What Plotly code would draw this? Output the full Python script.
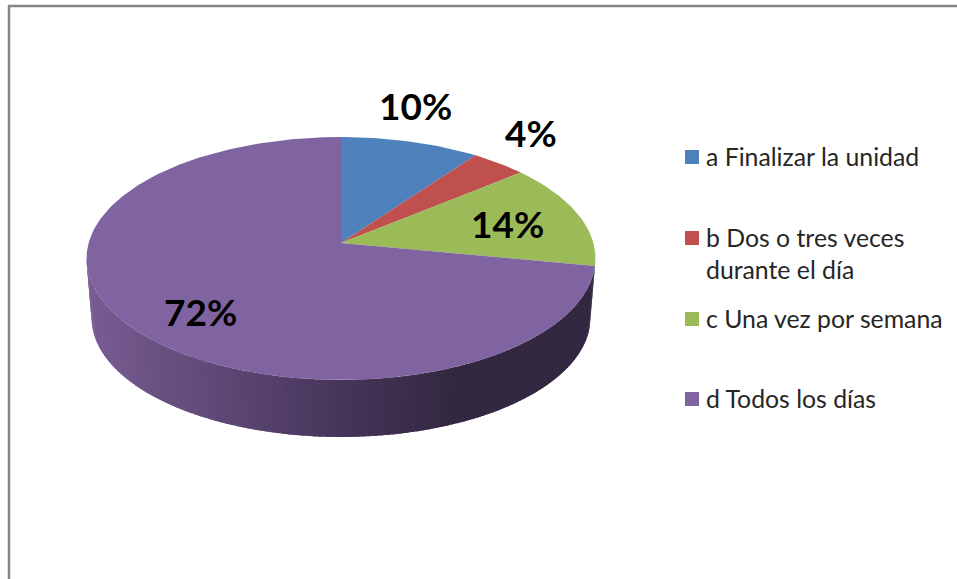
import numpy as np
import plotly.graph_objects as go

# ===============================
# DATA
# ===============================
CATEGORIES = ["a Finalizar la unidad", "b Dos o tres veces<br>durante el día",
              "c Una vez por semana", "d Todos los días"]
SHARES = [10, 4, 14, 72]
LABELS = ["10%", "4%", "14%", "72%"]
COLORS = ["#4F81BD", "#C0504D", "#9BBB59", "#8064A2"]

# ===============================
# CONFIG (all in page pixels)
# ===============================
W, H = 957, 579
CX, CY = 341, 243     # where the slices meet
RX, RY = 252.4, 119.5
PERSP = 0.1276        # pie is tilted, near edge looks bigger
DROP_Y, DROP_SCALE = 59.7, 0.98   # lower rim of the side wall
LABEL_POS = [(415, 105), (531, 132), (507, 223), (200, 311)]
LEGEND_Y = [157, 238, 319, 399]
LEGEND_BOX_X, LEGEND_TEXT_X = 692, 704
WALL_COLORS = [(90, (120, 92, 146)), (200, (98, 75, 121)), (340, (70, 53, 90)),
               (450, (52, 41, 66)), (600, (50, 40, 64))]


def rim(deg, scale=1.0, dy=0.0):
    """Pie rim point, angle clockwise from 12 o'clock."""
    t = np.radians(deg)
    px_, py_ = np.sin(t), -np.cos(t)
    den = 1 - PERSP * py_
    return CX + scale * RX * px_ / den, CY + dy + scale * RY * py_ / den


def wall_color(x):
    xs = [p[0] for p in WALL_COLORS]
    rgb = [np.interp(x, xs, [p[1][i] for p in WALL_COLORS]) for i in range(3)]
    return "rgb(%d,%d,%d)" % tuple(rgb)


fig = go.Figure()

# side wall, drawn as thin strips so it can shade left to right
edges = np.cumsum(SHARES) * 3.6
wall_start = edges[2]
wall_end = 262.7
steps = np.linspace(wall_start, wall_end, 130)
for a0, a1 in zip(steps[:-1], steps[1:]):
    arc = np.linspace(a0, a1 + 1.0, 5)
    ux, uy = rim(arc)
    lx, ly = rim(arc[::-1], DROP_SCALE, DROP_Y)
    fig.add_trace(go.Scatter(
        x=np.r_[ux, lx], y=np.r_[uy, ly], mode="lines", fill="toself",
        line=dict(width=0), fillcolor=wall_color(ux.mean()),
        hoverinfo="skip", showlegend=False))

# top face
start = 0.0
for name, share, color in zip(CATEGORIES, SHARES, COLORS):
    stop = start + share * 3.6
    arc = np.linspace(start, stop, max(int(share * 4), 8))
    ax, ay = rim(arc)
    fig.add_trace(go.Scatter(
        x=np.r_[CX, ax, CX], y=np.r_[CY, ay, CY], mode="lines", fill="toself",
        line=dict(width=0), fillcolor=color, name=name.replace("<br>", " "),
        hoverinfo="name", showlegend=False))
    start = stop

# legend keys
for y, color in zip(LEGEND_Y, COLORS):
    fig.add_trace(go.Scatter(
        x=[LEGEND_BOX_X], y=[y], mode="markers", hoverinfo="skip", showlegend=False,
        marker=dict(symbol="square", size=14, color=color, line=dict(width=0))))

annotations = []
for (x, y), text in zip(LABEL_POS, LABELS):
    annotations.append(dict(x=x, y=y, text=text, showarrow=False,
                            font=dict(family="Lato", size=37, color="#000000", weight="bold")))
for y, text in zip(LEGEND_Y, CATEGORIES):
    annotations.append(dict(x=LEGEND_TEXT_X, y=y - 17, text=text, showarrow=False,
                            xanchor="left", yanchor="top", align="left",
                            font=dict(family="Lato", size=24.8, color="#262626")))

fig.update_layout(
    width=W, height=H, margin=dict(l=0, r=0, t=0, b=0),
    paper_bgcolor="white", plot_bgcolor="white", showlegend=False,
    xaxis=dict(range=[0, W], visible=False, fixedrange=True),
    yaxis=dict(range=[H, 0], visible=False, fixedrange=True),
    annotations=annotations,
    shapes=[dict(type="line", x0=9, x1=9, y0=6, y1=H, line=dict(color="#868686", width=2.5)),
            dict(type="line", x0=8, x1=W, y0=6, y1=6, line=dict(color="#868686", width=2.5))],
)

# page has a default body margin, drop it so the figure fills the window
fig.write_html("out.html", config=dict(displayModeBar=False),
               post_script="document.body.style.margin='0';")
